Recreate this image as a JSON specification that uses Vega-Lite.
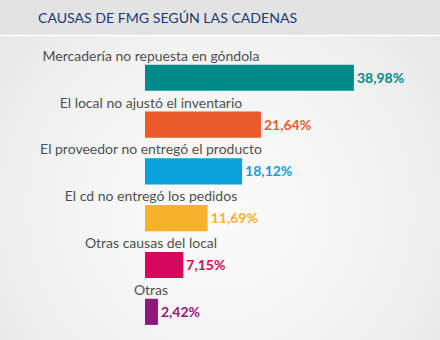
{
  "$schema": "https://vega.github.io/schema/vega-lite/v6.json",
  "width": 440,
  "height": 340,
  "autosize": {"type": "fit", "contains": "padding"},
  "padding": {"top": 11, "left": 0, "right": 0, "bottom": 0},
  "background": "#e3e3e3",
  "title": {
    "text": "CAUSAS DE FMG SEGÚN LAS CADENAS",
    "anchor": "start",
    "frame": "group",
    "dx": 38,
    "offset": 9,
    "fontSize": 14.1,
    "font": "Lato",
    "fontWeight": "normal",
    "color": "#1b3a78"
  },
  "view": {
    "stroke": null,
    "fill": {
      "gradient": "radial",
      "x1": 0.5, "y1": 0.55, "r1": 0,
      "x2": 0.5, "y2": 0.55, "r2": 0.75,
      "stops": [
        {"offset": 0, "color": "#fbfbfb"},
        {"offset": 0.5, "color": "#f3f3f3"},
        {"offset": 1, "color": "#e2e2e2"}
      ]
    }
  },
  "data": {
    "values": [
      {"causa": "Mercadería no repuesta en góndola", "valor": 38.98, "etiqueta": "38,98%"},
      {"causa": "El local no ajustó el inventario", "valor": 21.64, "etiqueta": "21,64%"},
      {"causa": "El proveedor no entregó el producto", "valor": 18.12, "etiqueta": "18,12%"},
      {"causa": "El cd no entregó los pedidos", "valor": 11.69, "etiqueta": "11,69%"},
      {"causa": "Otras causas del local", "valor": 7.15, "etiqueta": "7,15%"},
      {"causa": "Otras", "valor": 2.42, "etiqueta": "2,42%"}
    ]
  },
  "encoding": {
    "y": {
      "field": "causa",
      "type": "nominal",
      "sort": null,
      "axis": null,
      "scale": {"paddingInner": 0.441, "paddingOuter": 0.4785, "align": 0.663}
    }
  },
  "layer": [
    {
      "mark": {"type": "bar"},
      "encoding": {
        "x": {
          "field": "valor",
          "type": "quantitative",
          "scale": {"domain": [-27.05, 55.04], "nice": false, "zero": false},
          "axis": {"orient": "top", "labels": false, "ticks": false, "grid": false, "domainColor": "#ffffff", "domainWidth": 1.5, "title": null}
        },
        "x2": {"datum": 0},
        "color": {
          "field": "causa",
          "type": "nominal",
          "sort": null,
          "scale": {"range": ["#008a8a", "#ea5b2b", "#0aa0dc", "#f7b12a", "#d6075c", "#8c1a7c"]},
          "legend": null
        }
      }
    },
    {
      "mark": {"type": "text", "align": "center", "baseline": "alphabetic", "dx": 6, "dy": -17, "font": "Lato", "fontSize": 14, "color": "#505050"},
      "encoding": {
        "x": {"datum": 0},
        "text": {"field": "causa"}
      }
    },
    {
      "mark": {"type": "text", "align": "left", "baseline": "middle", "dx": 3, "dy": 1, "font": "Lato", "fontWeight": "bold", "fontSize": 14},
      "encoding": {
        "x": {"field": "valor", "type": "quantitative"},
        "text": {"field": "etiqueta"},
        "color": {
          "field": "causa",
          "type": "nominal",
          "sort": null,
          "scale": {"range": ["#008a8a", "#ea5b2b", "#0aa0dc", "#f7b12a", "#d6075c", "#8c1a7c"]},
          "legend": null
        }
      }
    }
  ]
}
